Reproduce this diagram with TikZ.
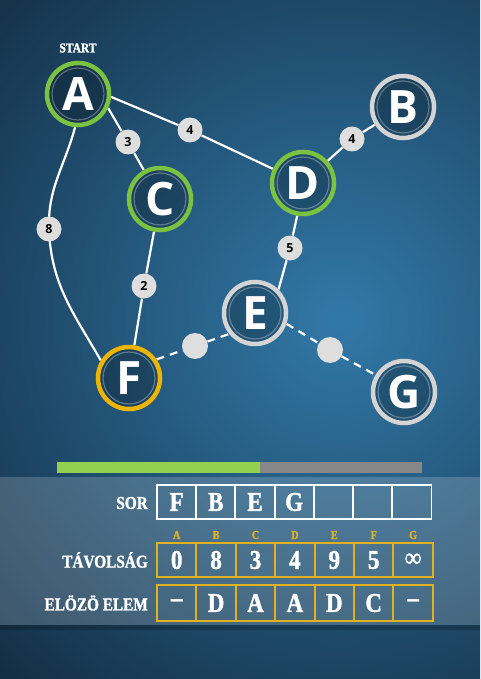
\documentclass[tikz,border=0pt]{standalone}
\usepackage{fontspec}
\setmainfont{Liberation Serif}
\newfontfamily\vtxfamily{Open Sans}
\newfontfamily\stencilfamily[FakeStretch=0.85, FakeBold=1.5]{Liberation Serif Bold}
\usetikzlibrary{positioning, calc, backgrounds}

\definecolor{bgdark}{HTML}{0B1B2B}
\definecolor{bglight}{HTML}{3279A8}
\definecolor{ringgreen}{HTML}{7CC242}
\definecolor{ringgrey}{HTML}{D4D4D4}
\definecolor{ringyellow}{HTML}{EDB400}
\definecolor{bubblegrey}{HTML}{DEDEDE}
\definecolor{tblyellow}{HTML}{E2B21E}
\definecolor{bargreen}{HTML}{92D050}
\definecolor{bargrey}{HTML}{878787}

\pgfdeclarelayer{edges}
\pgfsetlayers{background,edges,main}

\tikzset{
  vtx/.style={circle, minimum size=62pt, inner sep=0pt, line width=4.5pt,
    fill=black, fill opacity=0.24, text opacity=1, text=white,
    font=\vtxfamily\bfseries\fontsize{46}{46}\selectfont,
    path picture={\draw[white, opacity=0.3, line width=1.2pt]
      (path picture bounding box.center) circle (26pt);}},
  visited/.style={vtx, draw=ringgreen},
  waiting/.style={vtx, draw=ringgrey},
  current/.style={vtx, draw=ringyellow},
  wt/.style={circle, fill=bubblegrey, minimum size=25pt, inner sep=0pt, text=black,
    font=\vtxfamily\bfseries\fontsize{12.5}{12.5}\selectfont},
  hop/.style={circle, fill=bubblegrey, minimum size=26pt, inner sep=0pt},
  link/.style={white, line width=2.2pt},
  rowlabel/.style={anchor=east, text=white, inner sep=0pt,
    font=\stencilfamily\fontsize{18}{18}\selectfont},
  cellbox/.style={rectangle, minimum width=39.3pt, minimum height=34pt, inner sep=0pt,
    line width=1.8pt, text=white, font=\stencilfamily\fontsize{27}{27}\selectfont},
  sorcell/.style={cellbox, draw=white},
  tblcell/.style={cellbox, draw=tblyellow},
  hdr/.style={text=tblyellow, inner sep=0pt,
    font=\stencilfamily\fontsize{12}{12}\selectfont}
}

\begin{document}
\begin{tikzpicture}[x=1pt, y=-1pt]
  \useasboundingbox (0,0) rectangle (480,679);

  % Background
  \begin{pgfonlayer}{background}
    \begin{scope}
      \clip (0,0) rectangle (480,679);
      \fill[bgdark] (0,0) rectangle (480,679);
      \shade[inner color=bglight, outer color=bgdark] (340,320) circle (620);
    \end{scope}
  \end{pgfonlayer}

  % Graph vertices
  \node[visited] (A) at (78,94) {A};
  \node[waiting] (B) at (403,107) {B};
  \node[visited] (C) at (160,199) {C};
  \node[visited] (D) at (303,183) {D};
  \node[waiting] (E) at (255,313) {E};
  \node[current] (F) at (129,378) {F};
  \node[waiting] (G) at (404,392) {G};
  \node[text=white, font=\stencilfamily\fontsize{13.5}{13.5}\selectfont] (start) at (78,48) {START};

  % Edge weights
  \node[wt] (w3) at (128,142) {3};
  \node[wt] (w4a) at (190,130) {4};
  \node[wt] (w4b) at (352,139) {4};
  \node[wt] (w8) at (49,229) {8};
  \node[wt] (w2) at (144,286) {2};
  \node[wt] (w5) at (290,248) {5};
  \node[hop] (hEF) at (195,346) {};
  \node[hop] (hEG) at (330,350) {};

  % Edges
  \begin{pgfonlayer}{edges}
    \draw[link] (A.-25) -- (w3) -- (C);
    \draw[link] (A.-5) -- (w4a) -- (D);
    \draw[link] (D) -- (w4b) -- (B);
    \draw[link] (A.-95) to[out=-105, in=92] (w8.center) to[out=-88, in=120] (F.148);
    \draw[link] (C) -- (w2) -- (F);
    \draw[link] (D.-100) -- (w5) -- (E.45);
    \draw[link, dash pattern=on 8pt off 6pt] (F.34) -- (hEF) -- (E.219);
    \draw[link, dash pattern=on 8pt off 6pt] (E.-19) -- (hEG) -- (G.149);
  \end{pgfonlayer}

  % Progress bar
  \fill[bargreen] (57,462) rectangle (260,473);
  \fill[bargrey] (260,462) rectangle (422,473);

  % Table panel
  \fill[white, fill opacity=0.18] (0,477) rectangle (480,625);
  \fill[black, fill opacity=0.2] (0,625) rectangle (480,630);

  % Queue row
  \node[rowlabel] (lblSor) at (148,503) {SOR};
  \foreach \v [count=\i] in {F,B,E,G,{},{},{}}
    \node[sorcell] (sor\i) at ({157+39.2*(\i-0.5)},502) {\v};

  % Distance row
  \foreach \h [count=\i] in {A,...,G}
    \node[hdr] (hdr\i) at ({157+39.4*(\i-0.5)},535) {\h};
  \node[rowlabel] (lblTav) at (148,560) {TÁVOLSÁG};
  \foreach \v [count=\i] in {0,8,3,4,9,5,∞}
    \node[tblcell] (dist\i) at ({157+39.4*(\i-0.5)},560) {\v};

  % Previous row
  \node[rowlabel] (lblPrev) at (148,603) {ELÖZÖ ELEM};
  \foreach \v [count=\i] in {–,D,A,A,D,C,–}
    \node[tblcell, minimum height=36pt] (prev\i) at ({157+39.4*(\i-0.5)},603) {\v};
\end{tikzpicture}
\end{document}
